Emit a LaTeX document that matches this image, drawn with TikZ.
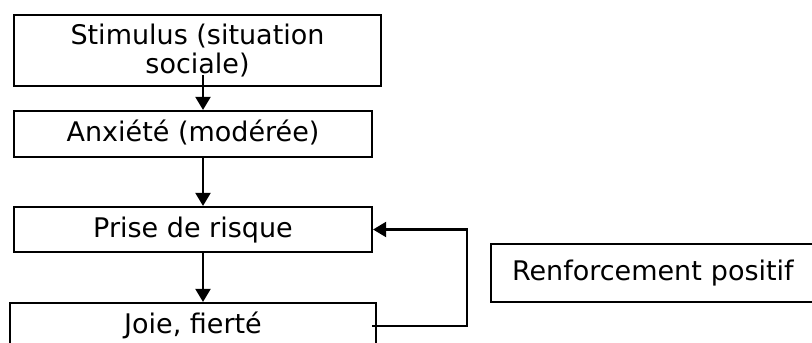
\documentclass[tikz,border=0pt]{standalone}
\usepackage{fontspec}
\setmainfont{DejaVu Sans}
\usetikzlibrary{arrows.meta}
\begin{document}
\begin{tikzpicture}[x=1pt,y=-1pt,
  box/.style={draw, line width=2.2pt, inner sep=0pt, align=center,
    font=\fontsize{27}{29}\selectfont, text height=20pt, text depth=5pt},
  arr/.style={line width=2.2pt, -{Triangle[length=13pt,width=15pt]}}]
\useasboundingbox (0,0) rectangle (812,343);
\clip (0,0) rectangle (812,343);
\fill[white] (0,0) rectangle (812,343);
\node[box, minimum width=367pt, minimum height=71pt, text height=, text depth=] (b1) at (197.5,50.5)
  {Stimulus (situation\\sociale)};
\node[box, minimum width=358pt, minimum height=46pt] (b2) at (193,134) {Anxiété (modérée)};
\node[box, minimum width=358pt, minimum height=45pt] (b3) at (193,229.5) {Prise de risque};
\node[box, minimum width=366pt, minimum height=45pt] (b4) at (193,325.5) {Joie, fierté};
\node[box, minimum width=340pt, minimum height=58pt, text width=298pt, inner xsep=21pt, align=left] (b5) at (661,273) {Renforcement positif};
\coordinate (s1) at (203,75);
\coordinate (f0) at (372,326);
\coordinate (fc) at (467,326);
\draw[arr] (s1) -- (s1 |- b2.north);
\draw[arr] (s1 |- b2.south) -- (s1 |- b3.north);
\draw[arr] (s1 |- b3.south) -- (s1 |- b4.north);
\draw[arr] (f0) -- (fc) -- (fc |- b3.east) -- (b3.east);
\end{tikzpicture}
\end{document}
